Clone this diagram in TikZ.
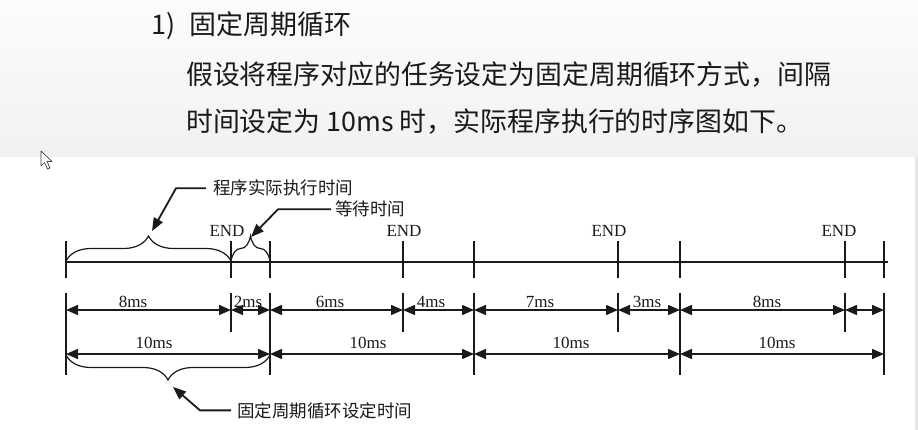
\documentclass[tikz,border=0pt]{standalone}
\usepackage{fontspec}
\usepackage{graphicx}
\setmainfont{Liberation Serif}
\newfontfamily\cjk{Noto Sans CJK SC}
\usetikzlibrary{arrows.meta,decorations.pathreplacing,calc}
\definecolor{ink}{HTML}{1A1A1A}
\definecolor{hdrtop}{HTML}{FCFCFC}
\definecolor{hdrbot}{HTML}{F1F1F1}
\definecolor{edge}{HTML}{E6E6E6}
\newlength\hdrw
\begin{document}
\settowidth\hdrw{\cjk\fontsize{28}{32}\selectfont 假设将程序对应的任务设定为固定周期循环方式，间隔}
\pgfmathsetmacro\hdrscale{645pt/\hdrw}
\settowidth\hdrw{\cjk\fontsize{28}{32}\selectfont 固定周期循环}
\pgfmathsetmacro\hdrscaleA{162pt/\hdrw}
\begin{tikzpicture}[x=1pt,y=-1pt,
  hdr/.style={anchor=base west,inner sep=0pt,text=ink,font=\cjk\fontsize{28}{32}\selectfont},
  lbl/.style={anchor=base,inner sep=0pt,text=ink,font=\fontsize{17}{20}\selectfont},
  cnlbl/.style={anchor=base west,inner sep=0pt,text=ink,font=\cjk\fontsize{17.5}{20}\selectfont},
  axis/.style={line width=1.4pt,draw=ink},
  tick/.style={line width=1.4pt,draw=ink},
  dimarrow/.style={line width=1.5pt,draw=ink,{Triangle[length=12pt,width=10pt]}-{Triangle[length=12pt,width=10pt]}},
  callout/.style={line width=1.8pt,draw=ink,-{Triangle[length=13pt,width=10pt]}},
  bracetop/.style={line width=1.2pt,draw=ink,decorate,decoration={brace,amplitude=25pt}},
  bracebot/.style={line width=1.2pt,draw=ink,decorate,decoration={brace,amplitude=25pt,mirror}}
]
\useasboundingbox (0,0) rectangle (918,430);
% background
\fill[white] (0,0) rectangle (918,430);
\shade[top color=hdrtop,bottom color=hdrbot] (0,0) rectangle (918,157);
\fill[edge] (915,157) rectangle (918,430);
% cursor
\draw[line width=0.7pt,draw=black!75,fill=white,line join=round]
  (41,151) -- (41,166) -- (44.5,162.5) -- (47.5,169) -- (50,168) -- (47,161.5) -- (52,161.5) -- cycle;

% header text
\node[hdr] (h1n) at (151,35) {\scalebox{\hdrscaleA}{1)}};
\node[hdr] (h1) at (189,35) {\scalebox{\hdrscaleA}{固定周期循环}};
\node[hdr] (h2) at (186,85) {\scalebox{\hdrscale}{假设将程序对应的任务设定为固定周期循环方式，间隔}};
\node[hdr] (h3) at (186,132) {\scalebox{\hdrscale}{时间设定为 10ms 时，实际程序执行的时序图如下。}};

% tick coordinates
\foreach \i/\x in {0/66,1/231,2/270,3/403,4/474,5/618,6/680,7/845,8/884}{
  \coordinate (t\i) at (\x,262);
  \coordinate (ta\i) at (\x,241);
  \coordinate (tb\i) at (\x,278);
  \coordinate (d\i) at (\x,293);
  \coordinate (r\i) at (\x,310);
  \coordinate (s\i) at (\x,354);
}
\coordinate (tlend) at (888,262);

% time line and ticks
\draw[axis] (t0) -- (tlend);
\foreach \i in {0,...,8}{ \draw[tick] (ta\i) -- (tb\i); }

% END labels
\node[lbl] (e1) at (227,237) {END};
\node[lbl] (e2) at (404,237) {END};
\node[lbl] (e3) at (609,237) {END};
\node[lbl] (e4) at (839,237) {END};

% braces on timeline
\coordinate (bl0) at (66,261);
\coordinate (bl1) at (231,261);
\coordinate (bl2) at (270,261);
\draw[bracetop] (bl0) -- (bl1);
\draw[bracetop] (bl1) -- (bl2);

% callout: program execution time
\node[cnlbl] (p1) at (213,195) {程序实际执行时间};
\coordinate (p1s) at ($(p1.west)+(-7,0)$);
\coordinate (p1k) at ($(p1.west)+(-37,0)$);
\coordinate (b1tip) at (152,231);
\draw[callout] (p1s) -- (p1k) -- (b1tip);

% callout: waiting time
\node[cnlbl] (p2) at (335,216) {等待时间};
\coordinate (p2s) at ($(p2.west)+(-4,0)$);
\coordinate (p2k) at ($(p2.west)+(-57,0)$);
\coordinate (b2tip) at (251,237);
\draw[callout] (p2s) -- (p2k) -- (b2tip);

% dimension ticks
\foreach \i in {0,2,4,6,8}{ \draw[tick] (d\i) -- ++(0,82); }
\foreach \i in {1,3,5,7}{ \draw[tick] (d\i) -- ++(0,39); }

% row 1 dimension arrows
\foreach \i [evaluate=\i as \j using int(\i+1)] in {0,...,7}{
  \draw[dimarrow] (r\i) -- (r\j);
}
\node[lbl] (m1) at (133,308) {8ms};
\node[lbl] (m2) at (248,308) {2ms};
\node[lbl] (m3) at (330,308) {6ms};
\node[lbl] (m4) at (431,308) {4ms};
\node[lbl] (m5) at (540,308) {7ms};
\node[lbl] (m6) at (647,308) {3ms};
\node[lbl] (m7) at (767,308) {8ms};

% row 2 dimension arrows
\draw[dimarrow] (s0) -- (s2);
\draw[dimarrow] (s2) -- (s4);
\draw[dimarrow] (s4) -- (s6);
\draw[dimarrow] (s6) -- (s8);
\node[lbl] (n1) at (154,348) {10ms};
\node[lbl] (n2) at (368,348) {10ms};
\node[lbl] (n3) at (571,348) {10ms};
\node[lbl] (n4) at (777,348) {10ms};

% bottom brace and callout
\coordinate (bb0) at (66,355);
\coordinate (bb1) at (270,355);
\draw[bracebot] (bb0) -- (bb1);
\node[cnlbl] (p3) at (237,417) {固定周期循环设定时间};
\coordinate (p3s) at ($(p3.west)+(-6,0)$);
\coordinate (p3k) at ($(p3.west)+(-37,0)$);
\coordinate (b3tip) at (173,387);
\draw[callout] (p3s) -- (p3k) -- (b3tip);
\end{tikzpicture}
\end{document}
